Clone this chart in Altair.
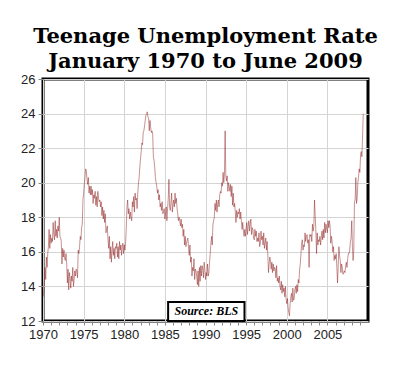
import altair as alt
import pandas as pd

# Monthly teenage unemployment rate (%), Jan 1970 - Jun 2009
rates_1970s = [
    13.4, 13.6, 14.3, 15.1, 14.4, 15.7, 15.1, 15.9, 16.3, 17.3, 16.2, 17.0,
    16.5, 16.8, 16.6, 17.7, 17.0, 16.7, 17.8, 16.9, 17.3, 16.8, 17.5, 17.2,
    18.0, 16.9, 16.8, 16.6, 15.3, 16.2, 15.7, 16.1, 15.6, 15.5, 15.9, 15.3,
    14.2, 15.0, 13.8, 14.8, 14.5, 13.9, 14.6, 14.3, 15.1, 14.0, 14.4, 14.9,
    14.6, 15.0, 14.9, 14.5, 16.1, 15.9, 16.3, 16.9, 16.7, 17.4, 17.6, 19.0,
    19.4, 19.9, 20.3, 20.8, 20.7, 20.2, 19.9, 20.3, 19.4, 19.8, 19.3, 19.8,
    19.3, 19.6, 18.8, 19.3, 19.1, 19.5, 18.7, 19.2, 18.6, 19.5, 19.1, 18.9,
    19.0, 18.6, 18.9, 18.1, 18.6, 17.9, 18.4, 17.7, 18.2, 17.1, 17.3, 17.5,
    16.7, 16.2, 16.9, 15.6, 16.3, 15.4, 16.1, 16.6, 15.8, 16.2, 15.6, 16.3,
    16.2, 16.5, 15.7, 16.3, 15.6, 16.6, 16.1, 16.4, 15.8, 16.3, 16.5, 15.9,
]
rates_1980s = [
    16.4, 16.1, 16.5, 17.4, 18.6, 19.0, 18.2, 18.5, 17.9, 18.3, 18.0, 17.8,
    18.9, 18.6, 19.2, 18.3, 19.4, 19.0, 19.1, 18.5, 19.4, 20.0, 20.3, 20.9,
    21.4, 21.8, 22.3, 22.2, 22.9, 23.0, 23.3, 23.6, 23.9, 24.0, 24.1, 23.8,
    23.7, 23.0, 23.6, 23.2, 22.9, 23.0, 22.8, 21.5, 21.3, 20.9, 20.3, 20.0,
    19.8, 19.4, 19.6, 19.0, 19.3, 18.6, 18.8, 18.4, 18.9, 18.2, 18.3, 18.5,
    17.9, 18.2, 18.6, 17.8, 18.5, 19.1, 20.2, 18.6, 18.4, 18.9, 19.4, 18.3,
    18.7, 19.0, 18.6, 19.4, 18.8, 19.1, 18.5, 18.2, 17.8, 18.0, 17.8, 17.5,
    17.9, 17.4, 17.6, 16.9, 17.3, 16.4, 16.9, 16.3, 16.5, 16.7, 16.8, 16.2,
    15.8, 16.4, 15.4, 15.7, 14.6, 15.1, 14.9, 15.6, 14.4, 15.0, 14.9, 14.6,
    14.1, 14.9, 14.0, 15.1, 14.3, 15.2, 14.6, 15.2, 15.0, 14.5, 15.4, 15.0,
]
rates_1990s = [
    14.4, 14.8, 14.6, 15.3, 14.6, 14.8, 15.4, 15.9, 16.5, 16.9, 16.4, 17.6,
    17.8, 18.0, 18.8, 18.4, 19.0, 18.3, 18.8, 19.0, 18.6, 19.3, 19.5, 19.4,
    20.0, 19.8, 20.6, 20.0, 20.5, 23.0, 20.4, 20.1, 20.4, 19.5, 20.0, 19.8,
    19.5, 19.9, 19.2, 19.8, 18.7, 19.4, 18.6, 18.8, 18.3, 17.7, 18.4, 18.0,
    18.3, 18.2, 18.5, 17.9, 18.3, 17.8, 17.3, 17.7, 17.2, 16.9, 17.3, 16.9,
    17.4, 17.7, 17.0, 17.5, 17.8, 17.2, 17.6, 17.9, 17.0, 17.4, 17.3, 16.8,
    16.7, 17.3, 16.9, 17.2, 16.6, 16.8, 16.6, 17.1, 16.3, 16.5, 17.2, 16.7,
    16.9, 16.4, 17.1, 16.2, 16.5, 16.8, 16.1, 16.6, 15.9, 14.8, 15.3, 15.7,
    15.5, 15.0, 15.4, 14.8, 15.3, 14.9, 15.1, 15.0, 14.5, 15.2, 14.3, 14.5,
    14.2, 14.6, 14.0, 13.8, 14.3, 13.6, 14.1, 13.7, 13.9, 13.4, 14.0, 13.3,
]
rates_2000s = [
    13.0, 13.3, 12.8, 12.5, 12.3, 13.0, 13.4, 13.6, 13.1, 13.9, 13.2, 13.3,
    13.8, 14.0, 13.6, 14.1, 13.7, 14.4, 14.2, 15.0, 15.3, 15.9, 16.5, 16.7,
    16.1, 16.4, 16.3, 17.1, 16.6, 16.9, 17.0, 16.5, 16.7, 15.1, 17.0, 16.9,
    17.0, 16.6, 17.6, 17.2, 17.5, 19.0, 18.1, 17.2, 15.9, 17.1, 16.4, 16.7,
    16.6, 16.9, 16.4, 16.8, 17.2, 16.7, 17.3, 16.8, 17.7, 17.1, 17.6, 17.3,
    17.1, 17.8, 17.4, 17.8, 17.5, 16.5, 16.9, 16.6, 16.0, 16.3, 15.5, 15.8,
    15.6, 15.9, 15.1, 14.2, 15.2, 16.3, 15.8, 15.5, 14.8, 15.3, 15.1, 14.7,
    14.8, 14.9, 14.8, 15.2, 15.4, 15.1, 15.6, 15.9, 15.9, 16.1, 16.6, 16.8,
    17.8, 16.3, 15.5, 16.1, 18.9, 19.0, 20.3, 18.8, 19.1, 20.0, 20.3, 20.8,
    20.6, 21.6, 21.8, 21.5, 22.7, 24.0,
]

rates = rates_1970s + rates_1980s + rates_1990s + rates_2000s
start_year = 1970
df = pd.DataFrame({
    "t": [start_year + i / 12 for i in range(len(rates))],
    "rate": rates,
})

x_years = list(range(1970, 2010))
y_ticks = [12, 14, 16, 18, 20, 22, 24, 26]
title_lines = ["Teenage Unemployment Rate", "January 1970 to June 2009"]
source_text = "Source: BLS"
source_box = pd.DataFrame({"t": [1985.4], "t2": [1994.8], "rate": [12.0], "rate2": [13.1],
                           "tx": [1990.1], "ty": [12.55], "label": [source_text]})

x_scale = alt.Scale(domain=[1970, 2010], nice=False, zero=False)
y_scale = alt.Scale(domain=[12, 26], nice=False, zero=False)
x_axis = alt.Axis(values=x_years, labelExpr="datum.value % 5 === 0 ? datum.label : ''",
                  format="d", labelOverlap=False, labelFlush=False, domain=False,
                  grid=True, gridColor="#d4d4d4",
                  gridOpacity=alt.condition("datum.value % 5 === 0", alt.value(1), alt.value(0)),
                  tickSize=4, tickColor="#888", labelFont="Liberation Sans",
                  labelFontSize=13, labelColor="#222", labelPadding=3)
y_axis = alt.Axis(values=y_ticks, domain=False, grid=True, gridColor="#d4d4d4",
                  labelOverlap=False, tickSize=5, tickColor="#888", labelFont="Liberation Sans",
                  labelFontSize=13, labelColor="#222", labelPadding=3)

line = alt.Chart(df).mark_line(color="#8b1a1a", strokeWidth=0.6, opacity=0.8).encode(
    x=alt.X("t:Q", title=None, scale=x_scale, axis=x_axis),
    y=alt.Y("rate:Q", title=None, scale=y_scale, axis=y_axis))

box = alt.Chart(source_box).mark_rect(fill="white", stroke="black", strokeWidth=2).encode(
    x=alt.X("t:Q", title=None, scale=x_scale, axis=x_axis), x2="t2:Q",
    y=alt.Y("rate:Q", title=None, scale=y_scale, axis=y_axis), y2="rate2:Q")
label = alt.Chart(source_box).mark_text(font="Liberation Serif", fontSize=12, fontWeight="bold",
                                        fontStyle="italic", color="black").encode(
    x=alt.X("tx:Q", title=None, scale=x_scale, axis=x_axis),
    y=alt.Y("ty:Q", title=None, scale=y_scale, axis=y_axis),
    text="label:N")

chart = alt.layer(line, box, label).properties(
    width=325, height=242,
    padding={"left": 35, "top": 71, "right": 24, "bottom": 36},
    autosize=alt.AutoSizeParams(type="none"),
    title=alt.TitleParams(title_lines, font="DejaVu Serif", fontSize=21, fontWeight="bold",
                          lineHeight=25, anchor="middle", frame="group", color="black", offset=1),
).configure_view(stroke="black", strokeWidth=3)

chart.save("out.html", embed_options={"renderer": "svg", "actions": False})
